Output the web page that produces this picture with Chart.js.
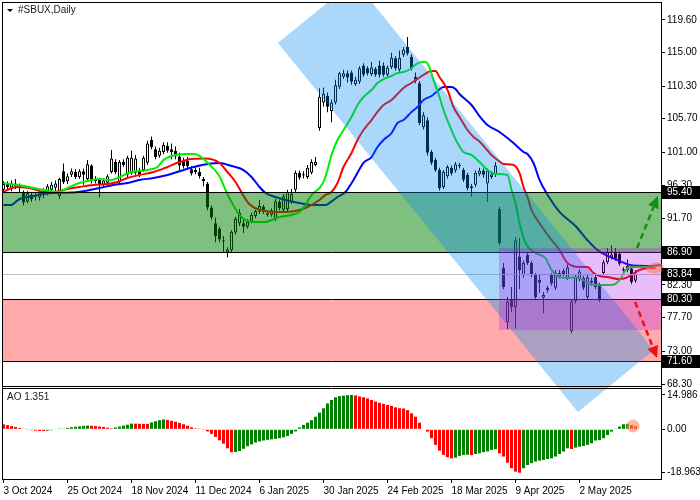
<!DOCTYPE html>
<html><head><meta charset="utf-8">
<script src="https://cdn.jsdelivr.net/npm/chart.js@4.4.1/dist/chart.umd.min.js"></script>
<style>html,body{margin:0;padding:0;background:#fff;}canvas{display:block;}</style>
</head><body>
<canvas id="c" width="700" height="500"></canvas>
<script>
const opens = [95.7,96.5,96.0,96.6,96.3,95.3,94.0,95.0,94.7,94.6,95.4,95.2,95.7,96.0,94.8,98.3,96.9,97.8,98.2,97.5,
98.3,97.2,99.1,97.2,97.1,96.4,96.7,98.2,99.6,96.8,99.6,97.8,98.0,98.1,98.5,98.5,99.5,102.7,101.4,100.5,
101.0,101.9,101.4,101.2,100.4,99.8,99.8,98.6,98.2,98.2,97.2,96.6,93.2,91.0,90.2,88.6,86.9,87.2,89.7,91.0,
91.0,90.5,91.2,92.0,92.6,93.3,92.4,92.2,91.6,94.0,92.9,93.0,94.0,95.7,98.1,97.7,97.5,98.1,99.2,104.4,
108.0,108.9,106.8,108.0,110.2,111.6,112.1,112.2,110.6,110.9,113.2,112.8,112.0,112.7,113.2,113.2,111.9,113.0,114.2,112.6,
114.7,115.8,114.4,111.6,110.7,104.5,105.5,101.0,99.9,98.5,96.1,97.6,98.8,98.4,99.2,98.5,97.8,96.2,96.4,97.9,
98.4,96.6,97.5,97.8,93.0,84.7,77.1,80.2,79.2,86.3,83.7,86.5,85.4,83.7,83.0,80.5,81.9,83.7,81.9,83.5,
84.3,83.3,75.8,80.0,83.1,83.3,80.6,82.9,83.4,82.3,84.0,85.5,86.2,86.9,86.7,84.5,84.4,84.6,82.9];
const highs = [96.9,96.9,97.0,97.2,96.6,95.6,95.5,95.4,95.3,95.7,95.9,96.5,96.8,97.0,97.4,99.4,98.0,98.7,98.6,98.6,
98.7,99.9,99.3,97.6,97.4,97.3,97.9,101.3,100.0,99.9,100.0,100.5,101.2,100.6,98.8,100.5,102.6,103.2,101.8,101.6,
102.4,102.4,102.2,101.8,100.9,100.2,100.3,99.0,98.9,98.8,97.5,96.8,93.5,91.8,90.5,89.2,87.6,90.0,91.9,93.0,
91.6,91.5,92.5,92.9,94.3,93.6,92.8,93.1,94.4,94.3,95.1,95.7,95.8,98.4,98.4,98.3,99.2,100.0,100.3,110.0,
110.1,109.4,108.4,111.2,112.3,112.6,112.5,112.5,111.6,113.1,113.5,113.1,113.7,113.0,113.9,113.6,113.2,115.0,114.5,115.3,
115.8,117.2,114.8,112.2,111.0,106.6,105.9,101.3,100.2,98.8,98.5,99.2,99.1,99.6,99.5,98.8,98.1,96.5,98.4,98.8,
98.7,98.7,98.3,99.6,93.3,85.4,80.6,82.0,89.0,88.9,85.7,86.8,85.7,84.0,83.7,81.3,82.2,84.0,84.4,84.4,
84.6,85.2,80.3,83.7,84.5,83.6,83.7,83.3,83.7,82.6,85.8,87.5,87.9,87.5,87.0,84.8,85.9,84.9,84.4];
const lows = [95.4,95.6,95.5,95.8,95.4,93.5,93.8,94.0,94.2,94.2,94.5,94.9,95.3,95.4,94.4,96.5,96.5,97.5,97.2,97.2,
96.4,97.0,96.6,96.6,94.6,96.1,96.4,98.0,97.9,96.5,98.9,97.5,97.8,97.8,97.5,98.2,99.2,101.4,100.0,100.2,
100.7,100.9,100.0,100.0,98.5,98.7,98.6,97.7,97.9,97.3,96.2,92.8,91.5,88.3,88.3,86.9,86.2,86.9,89.4,90.6,
89.6,90.2,91.0,91.7,92.3,92.3,91.9,91.9,91.3,92.8,92.6,92.7,93.7,95.4,97.1,97.3,97.2,97.9,99.0,104.0,
107.4,106.6,105.2,107.7,109.9,111.3,110.8,110.5,110.3,110.6,111.6,111.8,111.7,111.6,111.5,111.6,111.6,112.7,112.5,112.3,
114.4,114.6,112.5,110.7,104.8,104.2,100.5,99.2,98.2,95.6,95.8,97.3,97.7,98.1,98.7,96.8,95.6,94.7,96.1,97.6,
97.4,94.0,97.2,97.5,87.9,81.7,76.1,78.5,76.2,81.7,83.3,85.1,83.4,80.3,81.2,78.3,81.2,82.2,81.6,83.2,
83.5,83.0,75.5,79.7,82.8,81.6,80.3,82.2,81.7,79.9,83.7,85.2,85.9,85.7,85.0,83.9,84.1,82.4,82.6];
const closes = [96.5,96.1,96.6,96.2,95.9,93.9,95.2,94.4,94.9,95.3,95.0,96.2,96.4,96.6,97.2,96.8,97.6,98.3,97.5,98.3,
97.8,99.3,96.9,96.9,96.4,97.0,97.6,100.1,98.2,99.6,99.2,100.2,100.2,100.1,97.9,100.2,102.2,101.7,100.3,101.2,
102.0,101.2,101.0,100.4,99.1,99.0,99.0,98.0,98.5,97.6,96.9,93.2,91.8,89.2,88.7,88.4,87.3,89.8,91.6,92.5,
90.5,91.2,92.2,92.7,93.4,92.6,92.2,92.8,94.1,93.1,94.8,95.4,95.1,98.1,97.4,97.9,98.8,99.6,99.6,108.8,
109.2,107.4,108.0,110.4,112.1,112.1,111.5,110.9,111.2,112.8,111.9,112.1,112.9,111.9,111.9,111.9,112.9,114.3,112.8,114.3,
115.4,114.9,112.8,111.2,105.1,106.2,100.9,99.5,98.5,95.9,98.2,98.9,98.0,99.3,99.0,97.1,95.9,95.9,98.1,98.4,
97.8,98.4,97.9,99.1,88.2,82.0,79.9,79.2,88.6,84.4,85.4,85.4,83.7,80.6,82.6,80.9,81.6,82.5,84.0,84.0,
83.8,84.8,80.0,83.4,84.2,81.9,83.4,82.6,82.0,80.2,85.5,86.9,86.6,86.0,85.3,84.3,85.0,82.7,83.84];
const aoValues = [2.2,1.8,1.4,1.0,0.6,0.3,-0.1,-0.4,-0.6,-0.7,-0.75,-0.6,-0.4,-0.2,0.1,0.3,0.6,0.9,1.1,1.3,
1.5,1.6,1.5,1.4,1.2,1.0,0.7,0.4,0.8,1.2,1.6,2.0,2.5,2.45,2.4,2.35,2.3,3.0,3.5,4.0,
4.3,4.1,3.7,3.3,2.8,2.2,1.5,0.9,0.4,0.1,-0.3,-0.9,-2.0,-3.3,-4.8,-6.3,-8.3,-10.0,-9.9,-9.5,
-8.5,-7.4,-6.6,-5.8,-5.3,-4.9,-4.6,-4.4,-4.2,-3.9,-3.5,-2.9,-2.0,-0.9,0.8,1.9,2.9,4.0,5.5,7.3,
9.2,11.3,12.8,14.0,14.5,14.7,14.9,14.986,14.8,14.4,14.0,13.5,12.8,12.1,11.6,11.1,10.6,10.2,9.6,9.2,
9.1,8.4,7.0,5.5,2.9,0.2,-1.0,-3.9,-6.8,-9.3,-11.2,-12.2,-12.7,-12.4,-11.6,-11.2,-11.1,-11.3,-10.8,-10.5,
-10.0,-9.7,-9.0,-8.7,-10.5,-11.9,-14.6,-17.0,-18.5,-18.963,-17.0,-15.6,-14.8,-14.1,-13.7,-13.4,-13.0,-12.7,-11.9,-10.8,
-9.7,-8.3,-8.6,-8.0,-7.6,-7.3,-6.8,-6.1,-4.9,-4.7,-3.9,-2.5,-1.0,0.1,1.2,2.2,2.35,1.9,1.351];
const lipsLine = [[0,96.65],[5.5,96.2],[10,95.67],[14,95.4],[16,95.95],[19,96.65],[22,97.08],[24,97.22],[27,97.08],[29,97.5],
[32,98.2],[36,98.48],[38.5,98.91],[40,99.89],[42,100.46],[45.5,100.74],[47.5,100.74],[49,100.46],[51,99.5],[54,97.6],
[55.5,95.67],[57,93.98],[59,92.15],[60.5,91.44],[63,91.16],[65.5,91.16],[67,91.44],[69,91.87],[72,92.15],[74,92.57],
[75.5,93.56],[77,94.97],[79,95.95],[80,96.8],[81,98.48],[82,100.6],[83.5,102.71],[85,104.11],[87,105.94],[88.5,107.63],
[90,108.76],[92,109.75],[93.5,110.73],[95,111.29],[97,111.72],[98.5,112.14],[100,112.28],[101.75,112.7],[103,113.3],[104.5,113.69],
[105.5,113.69],[106.25,113.27],[107.5,111.15],[109,108.76],[110,106.93],[112,104.11],[113.5,102.28],[115,101.02],[117,100.6],[119,99.6],
[121,98.5],[123,97.92],[126,97.78],[127,95.67],[128,93.84],[129,91.02],[130.5,88.21],[133,86.8],[135.5,86.09],[137,84.4],
[139,83.42],[141,83.27],[143,83.42],[145,82.99],[146.5,82.43],[149,82.29],[152,82.29],[154,82.99],[155.5,84.4],[157,84.83],
[159,84.83],[161,84.83]];
const teethLine = [[0,95.39],[2,95.95],[4,96.09],[7.5,95.81],[10,95.39],[12.5,95.39],[16,95.81],[19,96.09],[22.5,96.37],[26,96.51],
[28.5,96.8],[31,97.36],[34,97.78],[37.5,98.2],[41,98.91],[44,99.6],[47,100.03],[50.5,100.1],[54,99.47],[56,98.2],
[58,96.8],[59.6,95.25],[61.2,93.84],[62.9,93.13],[65.4,92.71],[68,92.57],[70.5,92.57],[74,92.85],[76,93.27],[79,94.26],
[80.5,94.97],[82,95.39],[83.5,96.65],[85,98.91],[87,100.88],[88.5,102.71],[90,104.11],[92,105.52],[93.5,106.65],[95,107.63],
[97,108.34],[98.5,109.18],[100,110.03],[102,110.73],[103.5,111.29],[105,111.86],[107,112.42],[108,112.42],[109,111.58],[111,109.75],
[112.5,107.35],[114,105.94],[116,104.11],[117.5,103.13],[119,102.5],[122,100.6],[123.5,99.89],[125,99.33],[127.5,99.19],[129,98.06],
[130,96.09],[131,94.68],[132,92.85],[134,91.02],[135.5,89.76],[137,88.63],[139,87.22],[140,86.24],[141,85.39],[144,84.83],
[146,84.83],[147.5,83.98],[149,83.56],[151,83.42],[154,83.13],[155.5,83.27],[157,83.7],[159,84.4],[161.5,84.69],[163,84.69]];
const jawLine = [[0,93.56],[2,93.56],[3,93.98],[4,94.4],[6,94.68],[7.5,94.82],[10,95.11],[12.5,95.25],[17,95.3],[21,95.6],
[24,95.95],[27.5,96.37],[31,96.65],[34,97.08],[37.5,97.36],[41,97.78],[44,98.3],[47.5,98.91],[51,99.33],[54,99.47],
[57,99.05],[60,98.48],[62,97.5],[64,96.09],[65.5,95.25],[68,94.68],[70.5,94.26],[74,93.84],[77,93.56],[80.5,93.56],
[82.5,94.26],[83.5,94.68],[85.5,95.39],[87.5,97.08],[90,99.47],[92,100.31],[93.5,101.72],[95,102.71],[97,103.69],[98.5,105.1],
[100,105.52],[102,106.65],[103.5,107.35],[105,108.34],[107,108.9],[108.5,109.6],[110,110.17],[112,110.17],[113,109.9],[114,109.18],
[117,107.63],[119,106.08],[121,104.82],[124,103.83],[127.5,102.28],[130,101.02],[131,100.74],[132.5,99.47],[134,97.08],[136,95.0],
[139,92.6],[143,90.6],[146,88.6],[148.5,87.2],[151,86.4],[154,85.7],[156.6,85.1],[161,84.97],[164.3,85.1]];
const priceTicks = [119.6,115.0,110.3,105.7,101.0,96.3,91.7,87.0,82.3,77.7,73.0,68.3];
const aoTicks = [14.986,0,-18.963];
const aoTickLabels = ['14.986','0.00','-18.963'];
const dateTickIdx = [0,16,32,48,64,80,96,112,128,144];
const dateLabels = ['3 Oct 2024','25 Oct 2024','18 Nov 2024','11 Dec 2024','6 Jan 2025','30 Jan 2025','24 Feb 2025','18 Mar 2025','9 Apr 2025','2 May 2025'];
const greenZone = [86.90,95.40];
const redZone = [71.60,80.30];
const levelLabels = [95.40,86.90,83.84,80.30,71.60];
const currentPrice = 83.84;
const channelCorners = [[68.6,116.36],[87.7,125.15],[162.6,73.14],[143.6,64.42]];
const purpleBox = [123.9,87.52,75.96];
const upArrow = [[158.4,87.5],[163.6,94.82]];
const downArrow = [[157.9,79.9],[163.4,72.0]];
const priceMarker = [162.9,84.69];
const aoMarker = [157.4,1.44];
const aoNow = 1.351;
const symbolTitle = '#SBUX,Daily';

const FONT = "'Liberation Sans', Arial, sans-serif";
Chart.defaults.font.family = FONT;
Chart.defaults.color = '#000';

const idx = closes.map((_, i) => i);
const wickData = idx.map(i => ({x: i, y: [lows[i], highs[i]]}));
const bodyData = idx.map(i => ({x: i, y: [opens[i], closes[i]]}));
const aoData = aoValues.map((v, i) => ({x: i, y: v}));
const toXY = a => a.map(([x, y]) => ({x, y}));

function hline(ctx, y, L, R) {
  const yy = Math.round(y) + 0.5;
  ctx.beginPath(); ctx.moveTo(L, yy); ctx.lineTo(R, yy); ctx.stroke();
}
function arrow(ctx, x0, y0, x1, y1, color) {
  const a = Math.atan2(y1 - y0, x1 - x0);
  const hl = 12, hw = 5.5;
  const bx = x1 - hl * Math.cos(a), by = y1 - hl * Math.sin(a);
  ctx.save();
  ctx.strokeStyle = color; ctx.fillStyle = color; ctx.lineWidth = 2.5;
  ctx.setLineDash([6, 4]);
  ctx.beginPath(); ctx.moveTo(x0, y0); ctx.lineTo(bx, by); ctx.stroke();
  ctx.setLineDash([]);
  ctx.beginPath(); ctx.moveTo(x1, y1);
  ctx.lineTo(bx + hw * Math.sin(a), by - hw * Math.cos(a));
  ctx.lineTo(bx - hw * Math.sin(a), by + hw * Math.cos(a));
  ctx.closePath(); ctx.fill();
  ctx.restore();
}

const overlay = {
  id: 'overlay',
  afterDatasetsDraw(chart) {
    const ctx = chart.ctx, xs = chart.scales.x, ys = chart.scales.y, as = chart.scales.ao;
    const L = chart.chartArea.left, R = chart.chartArea.right;
    const top = ys.top, mainBot = Math.round(ys.bottom) - 1;
    const X = v => xs.getPixelForValue(v), Y = v => ys.getPixelForValue(v);
    ctx.save();
    ctx.beginPath(); ctx.rect(L, top, R - L, mainBot - top); ctx.clip();
    let y1 = Math.round(Y(greenZone[1])), y2 = Math.round(Y(greenZone[0]));
    ctx.fillStyle = 'rgba(0,128,0,0.5)'; ctx.fillRect(L, y1, R - L, y2 - y1);
    y1 = Math.round(Y(redZone[1])); y2 = Math.round(Y(redZone[0]));
    ctx.fillStyle = 'rgba(255,0,0,0.33)'; ctx.fillRect(L, y1, R - L, y2 - y1);
    ctx.lineWidth = 1;
    ctx.strokeStyle = '#c0c0c0'; hline(ctx, Y(currentPrice), L, R);
    ctx.strokeStyle = '#000';
    [greenZone[0], greenZone[1], redZone[0], redZone[1]].forEach(v => hline(ctx, Y(v), L, R));
    ctx.restore();

    ctx.save();
    ctx.beginPath(); ctx.rect(L, top, R - L, as.bottom - top); ctx.clip();
    ctx.fillStyle = 'rgba(0,138,240,0.33)';
    ctx.beginPath();
    channelCorners.forEach(([i, p], k) => { const px = X(i), py = Y(p); k ? ctx.lineTo(px, py) : ctx.moveTo(px, py); });
    ctx.closePath(); ctx.fill();
    ctx.restore();

    ctx.save();
    ctx.beginPath(); ctx.rect(L, top, R - L, mainBot - top); ctx.clip();
    const px0 = Math.round(X(purpleBox[0])), pt = Math.round(Y(purpleBox[1])), pb = Math.round(Y(purpleBox[2]));
    ctx.fillStyle = 'rgba(170,15,237,0.27)';
    ctx.fillRect(px0, pt, R - px0, pb - pt);
    ctx.restore();

    arrow(ctx, X(upArrow[0][0]), Y(upArrow[0][1]), X(upArrow[1][0]), Y(upArrow[1][1]), '#139013');
    arrow(ctx, X(downArrow[0][0]), Y(downArrow[0][1]), X(downArrow[1][0]), Y(downArrow[1][1]), '#f01010');

    ctx.save();
    ctx.fillStyle = 'rgba(255,130,60,0.55)';
    ctx.beginPath(); ctx.ellipse(X(priceMarker[0]), Y(priceMarker[1]), 9, 5.5, -0.15, 0, Math.PI * 2); ctx.fill();
    ctx.fillStyle = 'rgba(255,140,90,0.6)';
    ctx.beginPath(); ctx.arc(X(aoMarker[0]), as.getPixelForValue(aoMarker[1]), 6.5, 0, Math.PI * 2); ctx.fill();
    ctx.restore();

    ctx.save();
    ctx.font = '10px ' + FONT; ctx.textBaseline = 'middle'; ctx.textAlign = 'left';
    levelLabels.forEach(v => {
      const y = Math.round(Y(v));
      ctx.fillStyle = '#000'; ctx.fillRect(R + 1, y - 6, 700 - R - 1, 13);
      ctx.fillStyle = '#fff'; ctx.fillText(v.toFixed(2), R + 6, y + 0.5);
    });
    ctx.restore();
  },
  afterDraw(chart) {
    const ctx = chart.ctx, ys = chart.scales.y, as = chart.scales.ao;
    const L = chart.chartArea.left, R = chart.chartArea.right;
    const mainBot = Math.round(ys.bottom) - 1, aoTop = Math.round(as.top) + 1, aoBot = Math.round(as.bottom);
    ctx.save();
    ctx.strokeStyle = '#000'; ctx.lineWidth = 1;
    ctx.beginPath();
    ctx.moveTo(L + 0.5, 2); ctx.lineTo(L + 0.5, aoBot + 1);
    ctx.moveTo(L, 2.5); ctx.lineTo(R, 2.5);
    ctx.moveTo(L, mainBot + 0.5); ctx.lineTo(R, mainBot + 0.5);
    ctx.moveTo(L, aoTop + 0.5); ctx.lineTo(R, aoTop + 0.5);
    ctx.moveTo(L, aoBot + 0.5); ctx.lineTo(R, aoBot + 0.5);
    ctx.stroke();
    ctx.fillStyle = '#000';
    ctx.beginPath(); ctx.moveTo(7, 9); ctx.lineTo(13, 9); ctx.lineTo(10, 12); ctx.closePath(); ctx.fill();
    ctx.font = '10px ' + FONT; ctx.textBaseline = 'middle'; ctx.textAlign = 'left';
    ctx.fillStyle = '#202020';
    ctx.fillText(symbolTitle, 18, 10.5);
    ctx.fillText('AO ' + aoNow.toFixed(3), 7, aoTop + 9);
    ctx.restore();
  }
};

const tickFont = {family: FONT, size: 10};

new Chart(document.getElementById('c'), {
  type: 'line',
  data: {
    datasets: [
      {type: 'line', label: 'Lips', data: toXY(lipsLine), borderColor: '#00ee00', borderWidth: 2, pointRadius: 0, cubicInterpolationMode: 'monotone', yAxisID: 'y', order: 0},
      {type: 'line', label: 'Teeth', data: toXY(teethLine), borderColor: '#ff0000', borderWidth: 2, pointRadius: 0, cubicInterpolationMode: 'monotone', yAxisID: 'y', order: 1},
      {type: 'line', label: 'Jaw', data: toXY(jawLine), borderColor: '#0000ff', borderWidth: 2, pointRadius: 0, cubicInterpolationMode: 'monotone', yAxisID: 'y', order: 2},
      {type: 'bar', label: 'Body', data: bodyData, yAxisID: 'y', order: 3, grouped: false, barThickness: 3, borderWidth: 1, borderSkipped: false, inflateAmount: 0, minBarLength: 1,
        borderColor: '#000', backgroundColor: c => (c.dataIndex !== undefined && closes[c.dataIndex] >= opens[c.dataIndex]) ? '#ffffff' : '#000000'},
      {type: 'bar', label: 'Wick', data: wickData, yAxisID: 'y', order: 4, grouped: false, barThickness: 1, borderWidth: 0, inflateAmount: 0, minBarLength: 1, backgroundColor: '#000'},
      {type: 'bar', label: 'AO', data: aoData, yAxisID: 'ao', order: 5, grouped: false, barThickness: 3, borderWidth: 0, inflateAmount: 0,
        backgroundColor: c => { const i = c.dataIndex; return (i > 0 && aoValues[i] >= aoValues[i - 1]) ? '#008000' : '#ff0000'; }}
    ]
  },
  options: {
    responsive: false, animation: false, devicePixelRatio: 1,
    layout: {padding: {left: 2, top: 2, right: 0, bottom: 0}, autoPadding: false},
    plugins: {legend: {display: false}, tooltip: {enabled: false}},
    scales: {
      x: {type: 'linear', min: -0.375, max: 164.375, offset: false, bounds: 'data',
        afterBuildTicks: s => { s.ticks = dateTickIdx.map(v => ({value: v})); },
        afterFit: s => { s.height = 21; s.paddingLeft = 0; s.paddingRight = 0; },
        ticks: {callback: v => dateLabels[dateTickIdx.indexOf(v)], align: 'start', maxRotation: 0, minRotation: 0, autoSkip: false, font: tickFont, color: '#000', padding: 2},
        grid: {drawOnChartArea: false, offset: false, tickLength: 4, color: '#000'},
        border: {display: true, color: '#000'}},
      y: {type: 'linear', position: 'right', stack: 'panels', stackWeight: 385, min: 67.934, max: 122.134, bounds: 'data',
        afterBuildTicks: s => { s.ticks = priceTicks.map(v => ({value: v})); },
        afterFit: s => { s.width = 39; s.paddingTop = 0; s.paddingBottom = 0; },
        ticks: {callback: v => Number(v).toFixed(2), font: tickFont, color: '#000', padding: 2},
        grid: {drawOnChartArea: false, tickLength: 4, color: '#000'},
        border: {display: true, color: '#000'}},
      ao: {type: 'linear', position: 'right', stack: 'panels', stackWeight: 92, min: -21.71, max: 18.48, bounds: 'data',
        afterBuildTicks: s => { s.ticks = aoTicks.map(v => ({value: v})); },
        afterFit: s => { s.width = 39; s.paddingTop = 0; s.paddingBottom = 0; },
        ticks: {callback: (v, i) => aoTickLabels[i], font: tickFont, color: '#000', padding: 2},
        grid: {drawOnChartArea: false, tickLength: 4, color: '#000'},
        border: {display: true, color: '#000'}}
    }
  },
  plugins: [overlay]
});
</script>
</body></html>
